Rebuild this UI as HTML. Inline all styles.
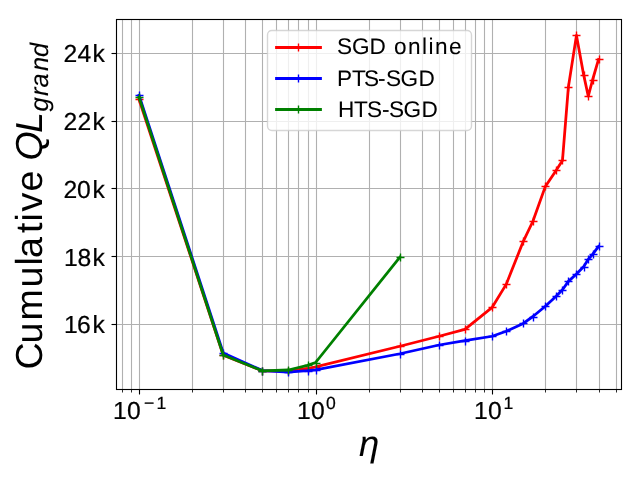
<!DOCTYPE html>
<html lang="en">
<head>
<meta charset="utf-8">
<title>Cumulative QL grand vs eta</title>
<style>
html,body{margin:0;padding:0;background:#ffffff;}
body{width:640px;height:480px;overflow:hidden;}
svg{display:block;will-change:transform;}
text{font-family:"Liberation Sans",sans-serif;fill:#000000;text-rendering:geometricPrecision;}
.it{font-style:italic;}
.grid line{stroke:#b0b0b0;stroke-width:1.11;}
.tk line{stroke:#000000;stroke-width:1.11;}
.mtk line{stroke:#000000;stroke-width:0.83;}
.ser{fill:none;stroke-width:2.78;stroke-linejoin:round;stroke-linecap:square;}
.mk{fill:none;stroke-width:1.39;}
</style>
</head>
<body>
<svg width="640" height="480" viewBox="0 0 640 480">
<rect x="0" y="0" width="640" height="480" fill="#ffffff"/>
<g class="grid">
<line x1="122.5" y1="19.5" x2="122.5" y2="389.5"/>
<line x1="131.5" y1="19.5" x2="131.5" y2="389.5"/>
<line x1="139.5" y1="19.5" x2="139.5" y2="389.5"/>
<line x1="192.5" y1="19.5" x2="192.5" y2="389.5"/>
<line x1="223.5" y1="19.5" x2="223.5" y2="389.5"/>
<line x1="245.5" y1="19.5" x2="245.5" y2="389.5"/>
<line x1="262.5" y1="19.5" x2="262.5" y2="389.5"/>
<line x1="276.5" y1="19.5" x2="276.5" y2="389.5"/>
<line x1="288.5" y1="19.5" x2="288.5" y2="389.5"/>
<line x1="298.5" y1="19.5" x2="298.5" y2="389.5"/>
<line x1="308.5" y1="19.5" x2="308.5" y2="389.5"/>
<line x1="316.5" y1="19.5" x2="316.5" y2="389.5"/>
<line x1="369.5" y1="19.5" x2="369.5" y2="389.5"/>
<line x1="400.5" y1="19.5" x2="400.5" y2="389.5"/>
<line x1="422.5" y1="19.5" x2="422.5" y2="389.5"/>
<line x1="439.5" y1="19.5" x2="439.5" y2="389.5"/>
<line x1="453.5" y1="19.5" x2="453.5" y2="389.5"/>
<line x1="465.5" y1="19.5" x2="465.5" y2="389.5"/>
<line x1="475.5" y1="19.5" x2="475.5" y2="389.5"/>
<line x1="484.5" y1="19.5" x2="484.5" y2="389.5"/>
<line x1="492.5" y1="19.5" x2="492.5" y2="389.5"/>
<line x1="545.5" y1="19.5" x2="545.5" y2="389.5"/>
<line x1="576.5" y1="19.5" x2="576.5" y2="389.5"/>
<line x1="599.5" y1="19.5" x2="599.5" y2="389.5"/>
<line x1="616.5" y1="19.5" x2="616.5" y2="389.5"/>
<line x1="116.5" y1="53.5" x2="621.5" y2="53.5"/>
<line x1="116.5" y1="121.5" x2="621.5" y2="121.5"/>
<line x1="116.5" y1="188.5" x2="621.5" y2="188.5"/>
<line x1="116.5" y1="256.5" x2="621.5" y2="256.5"/>
<line x1="116.5" y1="324.5" x2="621.5" y2="324.5"/>
</g>
<g class="tk">
<line x1="139.5" y1="389.5" x2="139.5" y2="394.5"/>
<line x1="316.5" y1="389.5" x2="316.5" y2="394.5"/>
<line x1="492.5" y1="389.5" x2="492.5" y2="394.5"/>
<line x1="111.5" y1="53.5" x2="116.5" y2="53.5"/>
<line x1="111.5" y1="121.5" x2="116.5" y2="121.5"/>
<line x1="111.5" y1="188.5" x2="116.5" y2="188.5"/>
<line x1="111.5" y1="256.5" x2="116.5" y2="256.5"/>
<line x1="111.5" y1="324.5" x2="116.5" y2="324.5"/>
</g>
<g class="mtk">
<line x1="122.5" y1="389.5" x2="122.5" y2="392.5"/>
<line x1="131.5" y1="389.5" x2="131.5" y2="392.5"/>
<line x1="192.5" y1="389.5" x2="192.5" y2="392.5"/>
<line x1="223.5" y1="389.5" x2="223.5" y2="392.5"/>
<line x1="245.5" y1="389.5" x2="245.5" y2="392.5"/>
<line x1="262.5" y1="389.5" x2="262.5" y2="392.5"/>
<line x1="276.5" y1="389.5" x2="276.5" y2="392.5"/>
<line x1="288.5" y1="389.5" x2="288.5" y2="392.5"/>
<line x1="298.5" y1="389.5" x2="298.5" y2="392.5"/>
<line x1="308.5" y1="389.5" x2="308.5" y2="392.5"/>
<line x1="369.5" y1="389.5" x2="369.5" y2="392.5"/>
<line x1="400.5" y1="389.5" x2="400.5" y2="392.5"/>
<line x1="422.5" y1="389.5" x2="422.5" y2="392.5"/>
<line x1="439.5" y1="389.5" x2="439.5" y2="392.5"/>
<line x1="453.5" y1="389.5" x2="453.5" y2="392.5"/>
<line x1="465.5" y1="389.5" x2="465.5" y2="392.5"/>
<line x1="475.5" y1="389.5" x2="475.5" y2="392.5"/>
<line x1="484.5" y1="389.5" x2="484.5" y2="392.5"/>
<line x1="545.5" y1="389.5" x2="545.5" y2="392.5"/>
<line x1="576.5" y1="389.5" x2="576.5" y2="392.5"/>
<line x1="599.5" y1="389.5" x2="599.5" y2="392.5"/>
<line x1="616.5" y1="389.5" x2="616.5" y2="392.5"/>
</g>
<polyline class="ser" stroke="#ff0000" points="139,99.4 223.26,355.3 262.44,370.8 288.24,371 307.52,368.5 315.6,366.9 399.86,346.25 439.04,336.25 464.84,329.4 492.2,307.3 506.18,284.4 523.3,241.3 532.9,221.25 545.36,186.4 556.08,170.4 562.48,160.4 568.38,87.1 576.46,35.4 583.77,75.4 588.28,96.2 592.54,80 598.52,59.4"/>
<path class="mk" stroke="#ff0000" d="M135.5 99.5h8M139.5 95.5v8M219.5 355.5h8M223.5 351.5v8M258.5 371.5h8M262.5 367.5v8M284.5 371.5h8M288.5 367.5v8M304.5 369.5h8M308.5 365.5v8M312.5 367.5h8M316.5 363.5v8M396.5 346.5h8M400.5 342.5v8M435.5 336.5h8M439.5 332.5v8M461.5 329.5h8M465.5 325.5v8M488.5 307.5h8M492.5 303.5v8M502.5 284.5h8M506.5 280.5v8M519.5 241.5h8M523.5 237.5v8M529.5 221.5h8M533.5 217.5v8M541.5 186.5h8M545.5 182.5v8M552.5 170.5h8M556.5 166.5v8M558.5 160.5h8M562.5 156.5v8M564.5 87.5h8M568.5 83.5v8M572.5 35.5h8M576.5 31.5v8M580.5 75.5h8M584.5 71.5v8M584.5 96.5h8M588.5 92.5v8M589.5 80.5h8M593.5 76.5v8M595.5 59.5h8M599.5 55.5v8"/>
<polyline class="ser" stroke="#0000ff" points="139,95.3 223.26,353 262.44,370.55 288.24,372.1 307.52,370.7 315.6,369.9 399.86,353.75 439.04,345 464.84,340.6 492.2,336.25 506.18,331.25 523.3,323.4 532.9,316.5 545.36,306.25 556.08,296.25 562.48,289.75 568.38,281.4 576.46,274 583.77,266.5 588.28,259.3 592.54,254.3 598.52,246.4"/>
<path class="mk" stroke="#0000ff" d="M135.5 95.5h8M139.5 91.5v8M219.5 353.5h8M223.5 349.5v8M258.5 371.5h8M262.5 367.5v8M284.5 372.5h8M288.5 368.5v8M304.5 371.5h8M308.5 367.5v8M312.5 370.5h8M316.5 366.5v8M396.5 354.5h8M400.5 350.5v8M435.5 345.5h8M439.5 341.5v8M461.5 341.5h8M465.5 337.5v8M488.5 336.5h8M492.5 332.5v8M502.5 331.5h8M506.5 327.5v8M519.5 323.5h8M523.5 319.5v8M529.5 317.5h8M533.5 313.5v8M541.5 306.5h8M545.5 302.5v8M552.5 296.5h8M556.5 292.5v8M558.5 290.5h8M562.5 286.5v8M564.5 281.5h8M568.5 277.5v8M572.5 274.5h8M576.5 270.5v8M580.5 267.5h8M584.5 263.5v8M584.5 259.5h8M588.5 255.5v8M589.5 254.5h8M593.5 250.5v8M595.5 246.5h8M599.5 242.5v8"/>
<polyline class="ser" stroke="#008000" points="139,97.2 223.26,355 262.44,370.8 288.24,370 307.52,365.4 315.6,362.5 399.86,257.25"/>
<path class="mk" stroke="#008000" d="M135.5 97.5h8M139.5 93.5v8M219.5 355.5h8M223.5 351.5v8M258.5 371.5h8M262.5 367.5v8M284.5 370.5h8M288.5 366.5v8M304.5 365.5h8M308.5 361.5v8M312.5 363.5h8M316.5 359.5v8M396.5 257.5h8M400.5 253.5v8"/>
<rect x="116.5" y="19.5" width="505" height="370" fill="none" stroke="#000000" stroke-width="1.11"/>
<rect x="267.5" y="30.5" width="204" height="100" rx="4.4" ry="4.4" fill="#ffffff" fill-opacity="0.8" stroke="#cccccc" stroke-opacity="0.8" stroke-width="1.39"/>
<line x1="275.11" y1="47.5" x2="321.89" y2="47.5" stroke="#ff0000" stroke-width="2.78"/>
<path class="mk" stroke="#ff0000" d="M294.5 47.5h8M298.5 43.5v8"/>
<line x1="275.11" y1="78.5" x2="321.89" y2="78.5" stroke="#0000ff" stroke-width="2.78"/>
<path class="mk" stroke="#0000ff" d="M294.5 78.5h8M298.5 74.5v8"/>
<line x1="275.11" y1="109.5" x2="321.89" y2="109.5" stroke="#008000" stroke-width="2.78"/>
<path class="mk" stroke="#008000" d="M294.5 109.5h8M298.5 105.5v8"/>
<text transform="translate(65 62.3)" font-size="24.7" stroke="#000000" stroke-width="0.22" x="-1.5 12.5 27.5">24k</text>
<text transform="translate(65 130)" font-size="24.7" stroke="#000000" stroke-width="0.22" x="-1.5 12.5 27.5">22k</text>
<text transform="translate(65 198)" font-size="24.7" stroke="#000000" stroke-width="0.22" x="-1.5 12 27.5">20k</text>
<text transform="translate(66 266)" font-size="24.7" stroke="#000000" stroke-width="0.22" x="-2 11.5 26.5">18k</text>
<text transform="translate(66 333)" font-size="24.7" stroke="#000000" stroke-width="0.22" x="-2 11 26.5">16k</text>
<text transform="translate(115 419)" font-size="24.7" stroke="#000000" stroke-width="0.22" x="-2 12">10</text>
<text transform="translate(144 409)" font-size="17.6" stroke="#000000" stroke-width="0.22" x="0 12.5">−1</text>
<text transform="translate(299 419)" font-size="24.7" stroke="#000000" stroke-width="0.22" x="-2 12">10</text>
<text transform="translate(327 409)" font-size="17.6" stroke="#000000" stroke-width="0.22" x="-1">0</text>
<text transform="translate(476 419)" font-size="24.7" stroke="#000000" stroke-width="0.22" x="-2 12">10</text>
<text transform="translate(505 409)" font-size="17.6" stroke="#000000" stroke-width="0.22" x="-1.5">1</text>
<text class="it" transform="translate(360 456)" font-size="36.36" stroke="#000000" stroke-width="0.06" x="-1">η</text>
<text transform="translate(339 54)" font-size="22.6" stroke="#000000" stroke-width="0.06" x="-2 13 30.5 46.82 55 69 83 89.5 96 110">SGD online</text>
<text transform="translate(340 86)" font-size="22.6" stroke="#000000" stroke-width="0.06" x="-3 12.07 24 38 46 60.5 78.5">PTS-SGD</text>
<text transform="translate(340 117)" font-size="22.6" stroke="#000000" stroke-width="0.06" x="-2 14 27 42 49 63.5 81.5">HTS-SGD</text>
<text transform="translate(42 366) rotate(-90)" font-size="37.6" x="-3.5 22.5 45.5 78.5 100.5 108 133 144.5 154.5 174.5">Cumulative</text>
<text class="it" transform="translate(42 158) rotate(-90)" font-size="37.6" x="-2.5 25">QL</text>
<text class="it" transform="translate(48 111) rotate(-90)" font-size="25.4" stroke="#000000" stroke-width="0.1" x="-0.5 15 23.46 40 54">grand</text>
</svg>
</body>
</html>
